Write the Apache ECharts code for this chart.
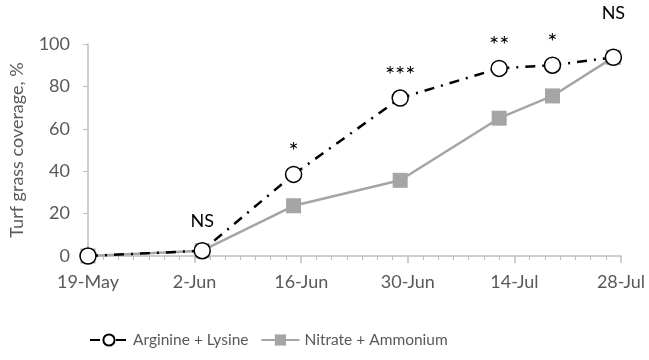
<!DOCTYPE html>
<html><head><meta charset="utf-8">
<script src="https://cdn.jsdelivr.net/npm/echarts@6/dist/echarts.min.js"></script>
<style>html,body{margin:0;padding:0;background:#fff}#c{width:649px;height:360px}</style>
</head><body><div id="c"></div>
<script>
const startDate = '2015-05-19';
const tickLabels = ['19-May','2-Jun','16-Jun','30-Jun','14-Jul','28-Jul'];
const sampleDates = ['2015-05-19','2015-06-03','2015-06-15','2015-06-29','2015-07-12','2015-07-19','2015-07-27'];
const arginineLysine = [0, 2.5, 38.5, 74.5, 88.5, 90, 93.7];
const nitrateAmmonium = [0, 2.5, 23.7, 35.7, 65, 75.5, 93.7];
const sigLabels = ['', 'NS', '*', '***', '**', '*', 'NS'];

const DAY = 86400000;
const t0 = Date.parse(startDate);
const dayOff = d => (Date.parse(d) - t0) / DAY;
const font = 'Lato, "Open Sans", sans-serif';

const argData = sampleDates.map((d, i) => {
  const item = { value: [dayOff(d), arginineLysine[i]] };
  if (sigLabels[i]) {
    const isNS = sigLabels[i] === 'NS';
    item.label = { show: true, position: 'top', formatter: sigLabels[i],
      distance: i === 6 ? 26 : (i === 1 ? 12 : 2),
      color: '#000', fontSize: isNS ? 18 : 24, fontFamily: font };
  }
  return item;
});
const nitData = sampleDates.map((d, i) => [dayOff(d), nitrateAmmonium[i]]);

const chart = echarts.init(document.getElementById('c'));
chart.setOption({
  animation: false,
  grid: { left: 86, right: 28, top: 44, bottom: 104 },
  xAxis: {
    type: 'value', min: 0, max: 70, interval: 14,
    axisLine: { show: true, lineStyle: { color: '#bfbfbf', width: 1.5 } },
    axisTick: { show: true, inside: false, length: 7, lineStyle: { color: '#bfbfbf', width: 1.5 } },
    minorTick: { show: true, splitNumber: 7, length: 4, lineStyle: { color: '#bfbfbf' } },
    splitLine: { show: false },
    axisLabel: { color: '#595959', fontSize: 18, fontFamily: font, margin: 17,
      formatter: v => tickLabels[Math.round(v / 14)] },
  },
  yAxis: {
    type: 'value', min: 0, max: 100, interval: 20,
    name: 'Turf grass coverage, %', nameLocation: 'middle', nameGap: 62,
    nameTextStyle: { color: '#595959', fontSize: 18, fontFamily: font },
    axisLine: { show: true, lineStyle: { color: '#bfbfbf', width: 1.5 } },
    axisTick: { show: true, length: 5, lineStyle: { color: '#bfbfbf' } },
    splitLine: { show: false },
    axisLabel: { color: '#595959', fontSize: 18, fontFamily: font, margin: 18 },
  },
  legend: {
    left: 84, top: 327, itemWidth: 38, itemHeight: 14, itemGap: 12,
    textStyle: { color: '#595959', fontSize: 15.5, fontFamily: font },
    data: ['Arginine + Lysine', 'Nitrate + Ammonium']
  },
  series: [
    {
      name: 'Nitrate + Ammonium', type: 'line', data: nitData,
      symbol: 'rect', symbolSize: 15,
      itemStyle: { color: '#a5a5a5' },
      lineStyle: { color: '#a5a5a5', width: 2.5 },
      z: 2
    },
    {
      name: 'Arginine + Lysine', type: 'line', data: argData,
      symbol: 'circle', symbolSize: 16,
      itemStyle: { color: '#fff', borderColor: '#000', borderWidth: 1.5 },
      lineStyle: { color: '#000', width: 2.5, type: [10, 7, 2, 7] },
      z: 3
    }
  ]
});
</script></body></html>
